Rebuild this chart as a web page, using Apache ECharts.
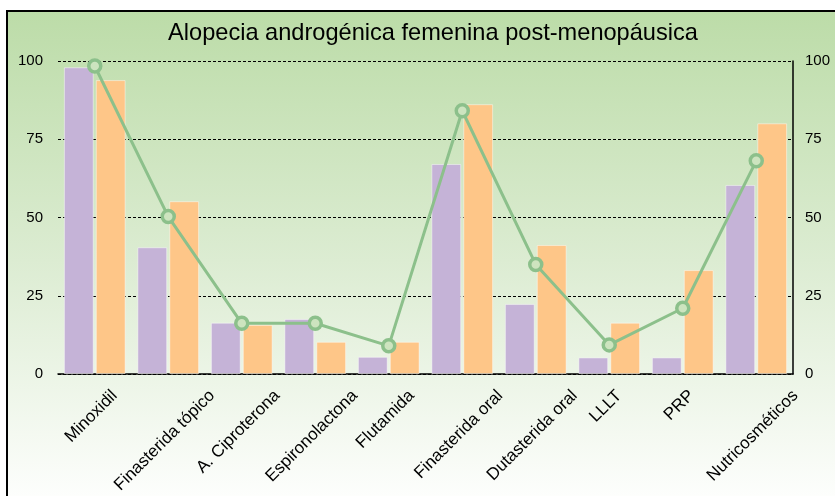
<!DOCTYPE html>
<html>
<head>
<meta charset="utf-8">
<script src="https://cdn.jsdelivr.net/npm/echarts@6/dist/echarts.min.js"></script>
<style>html,body{margin:0;padding:0;background:#fff}#c{width:835px;height:496px}</style>
</head>
<body>
<div id="c"></div>
<script>
const title = 'Alopecia androgénica femenina post-menopáusica';
const categories = ['Minoxidil', 'Finasterida tópico', 'A. Ciproterona', 'Espironolactona', 'Flutamida', 'Finasterida oral', 'Dutasterida oral', 'LLLT', 'PRP', 'Nutricosméticos'];
const purpleValues = [98, 40.5, 16.4, 17.6, 5.5, 67.1, 22.4, 5.3, 5.3, 60.4];
const orangeValues = [93.9, 55.2, 15.7, 10.3, 10.3, 86.2, 41.2, 16.4, 33.2, 80.1];
const lineValues = [98.4, 50.3, 16.2, 16.2, 9.0, 84.1, 35.0, 9.3, 21.0, 68.1];
const yTicks = [0, 25, 50, 75, 100];

const FONT = '"Liberation Sans", Arial, Helvetica, sans-serif';
const LABEL_SIZE = 17;
const cv = document.createElement('canvas').getContext('2d');
cv.font = LABEL_SIZE + 'px ' + FONT;

const chart = echarts.init(document.getElementById('c'), null, { renderer: 'canvas' });
const yCommon = {
  type: 'value', min: yTicks[0], max: yTicks[yTicks.length - 1], interval: 25,
  axisTick: { show: false },
  axisLabel: { color: '#000', fontSize: 15, fontFamily: FONT }
};

// Category labels, rotated 45° and centred under each category (positioned via the axis scale)
function renderCategoryLabel(params, api) {
  const idx = api.value(0);
  const text = categories[idx];
  const p = api.coord([idx, 0]);
  const L = cv.measureText(text).width;
  const d = 0.3536 * L;
  return {
    type: 'text',
    x: p[0] - 3.5,
    y: p[1] + 19 + d,
    rotation: Math.PI / 4,
    style: {
      text: text, align: 'center', verticalAlign: 'middle',
      fill: '#000', font: LABEL_SIZE + 'px ' + FONT
    }
  };
}

chart.setOption({
  animation: false,
  textStyle: { fontFamily: FONT },
  graphic: [{
    type: 'rect', z: -10, silent: true,
    shape: { x: 7, y: 11, width: 840, height: 500 },
    style: {
      fill: new echarts.graphic.LinearGradient(0, 0, 0, 1, [
        { offset: 0, color: '#bcdca8' },
        { offset: 0.5, color: '#dcecd2' },
        { offset: 1, color: '#ffffff' }
      ]),
      stroke: '#000', lineWidth: 2
    }
  }],
  title: {
    text: title, left: 428, top: 16, textAlign: 'center',
    textStyle: { fontSize: 23.6, fontWeight: 'normal', color: '#000', fontFamily: FONT }
  },
  grid: { left: 58, right: 42, top: 61, bottom: 122, containLabel: false, outerBoundsMode: 'none' },
  xAxis: {
    type: 'category', data: categories,
    axisLine: { show: true, lineStyle: { color: '#000', width: 1.5 } },
    axisTick: { show: false },
    axisLabel: { show: false }
  },
  yAxis: [
    Object.assign({}, yCommon, {
      position: 'left',
      axisLine: { show: false },
      axisLabel: Object.assign({}, yCommon.axisLabel, { margin: 15 }),
      splitLine: { show: true, lineStyle: { color: '#000', type: [3, 2], width: 1 } }
    }),
    Object.assign({}, yCommon, {
      position: 'right',
      axisLine: { show: true, lineStyle: { color: '#000', width: 1.5 } },
      axisLabel: Object.assign({}, yCommon.axisLabel, { margin: 12 }),
      splitLine: { show: false }
    })
  ],
  series: [
    {
      type: 'bar', data: purpleValues, yAxisIndex: 0,
      barGap: '7%', barCategoryGap: '16%',
      itemStyle: { color: '#c5b3d7', borderColor: 'rgba(255,255,255,0.45)', borderWidth: 1 }
    },
    {
      type: 'bar', data: orangeValues, yAxisIndex: 0,
      itemStyle: { color: '#fec688', borderColor: 'rgba(255,255,255,0.45)', borderWidth: 1 }
    },
    {
      type: 'line', data: lineValues, yAxisIndex: 0, z: 5,
      symbol: 'circle', symbolSize: 12,
      lineStyle: { color: '#8cc08b', width: 3 },
      itemStyle: { color: '#cde4bf', borderColor: '#8cc08b', borderWidth: 3.5 }
    },
    {
      type: 'custom', name: 'categoryLabels', silent: true, clip: false, z: 6,
      data: categories.map(function (c, i) { return [i, 0]; }),
      encode: { x: 0, y: 1 },
      renderItem: renderCategoryLabel
    }
  ]
});
</script>
</body>
</html>
